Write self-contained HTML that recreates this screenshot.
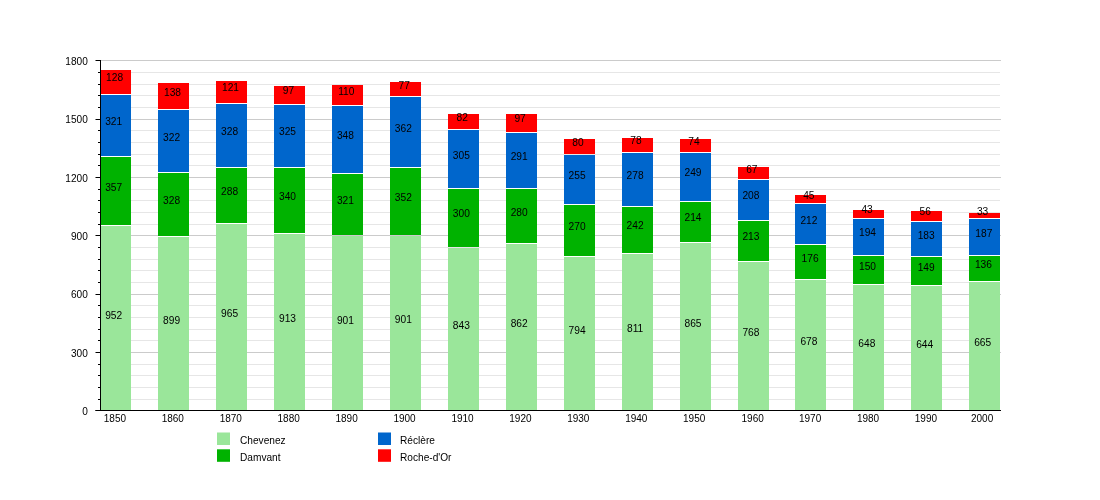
<!DOCTYPE html>
<html lang="fr"><head><meta charset="utf-8"><title>Haute-Ajoie</title>
<style>html,body{margin:0;padding:0;background:#fff;width:1100px;height:500px;overflow:hidden}</style>
</head><body>
<svg width="1100" height="500" viewBox="0 0 1100 500" style="position:absolute;left:0;top:0">
<line x1="101" x2="1000" y1="399.5" y2="399.5" stroke="#e6e6e6" stroke-width="1"/>
<line x1="101" x2="1000" y1="387.5" y2="387.5" stroke="#e6e6e6" stroke-width="1"/>
<line x1="101" x2="1000" y1="375.5" y2="375.5" stroke="#e6e6e6" stroke-width="1"/>
<line x1="101" x2="1000" y1="364.5" y2="364.5" stroke="#e6e6e6" stroke-width="1"/>
<line x1="101" x2="1001" y1="352.5" y2="352.5" stroke="#cbcbcb" stroke-width="1"/>
<line x1="101" x2="1000" y1="340.5" y2="340.5" stroke="#e6e6e6" stroke-width="1"/>
<line x1="101" x2="1000" y1="329.5" y2="329.5" stroke="#e6e6e6" stroke-width="1"/>
<line x1="101" x2="1000" y1="317.5" y2="317.5" stroke="#e6e6e6" stroke-width="1"/>
<line x1="101" x2="1000" y1="305.5" y2="305.5" stroke="#e6e6e6" stroke-width="1"/>
<line x1="101" x2="1001" y1="294.5" y2="294.5" stroke="#cbcbcb" stroke-width="1"/>
<line x1="101" x2="1000" y1="282.5" y2="282.5" stroke="#e6e6e6" stroke-width="1"/>
<line x1="101" x2="1000" y1="270.5" y2="270.5" stroke="#e6e6e6" stroke-width="1"/>
<line x1="101" x2="1000" y1="259.5" y2="259.5" stroke="#e6e6e6" stroke-width="1"/>
<line x1="101" x2="1000" y1="247.5" y2="247.5" stroke="#e6e6e6" stroke-width="1"/>
<line x1="101" x2="1001" y1="235.5" y2="235.5" stroke="#cbcbcb" stroke-width="1"/>
<line x1="101" x2="1000" y1="224.5" y2="224.5" stroke="#e6e6e6" stroke-width="1"/>
<line x1="101" x2="1000" y1="212.5" y2="212.5" stroke="#e6e6e6" stroke-width="1"/>
<line x1="101" x2="1000" y1="200.5" y2="200.5" stroke="#e6e6e6" stroke-width="1"/>
<line x1="101" x2="1000" y1="189.5" y2="189.5" stroke="#e6e6e6" stroke-width="1"/>
<line x1="101" x2="1001" y1="177.5" y2="177.5" stroke="#cbcbcb" stroke-width="1"/>
<line x1="101" x2="1000" y1="165.5" y2="165.5" stroke="#e6e6e6" stroke-width="1"/>
<line x1="101" x2="1000" y1="154.5" y2="154.5" stroke="#e6e6e6" stroke-width="1"/>
<line x1="101" x2="1000" y1="142.5" y2="142.5" stroke="#e6e6e6" stroke-width="1"/>
<line x1="101" x2="1000" y1="130.5" y2="130.5" stroke="#e6e6e6" stroke-width="1"/>
<line x1="101" x2="1001" y1="119.5" y2="119.5" stroke="#cbcbcb" stroke-width="1"/>
<line x1="101" x2="1000" y1="107.5" y2="107.5" stroke="#e6e6e6" stroke-width="1"/>
<line x1="101" x2="1000" y1="95.5" y2="95.5" stroke="#e6e6e6" stroke-width="1"/>
<line x1="101" x2="1000" y1="84.5" y2="84.5" stroke="#e6e6e6" stroke-width="1"/>
<line x1="101" x2="1000" y1="72.5" y2="72.5" stroke="#e6e6e6" stroke-width="1"/>
<line x1="101" x2="1001" y1="60.5" y2="60.5" stroke="#cbcbcb" stroke-width="1"/>
<rect x="100.00" y="226.00" width="31.0" height="184.00" fill="#9ae69a"/>
<rect x="100.00" y="157.00" width="31.0" height="68.00" fill="#00b200"/>
<rect x="100.00" y="95.00" width="31.0" height="61.00" fill="#0066cc"/>
<rect x="100.00" y="70.00" width="31.0" height="24.00" fill="#ff0000"/>
<rect x="158.00" y="237.00" width="31.0" height="173.00" fill="#9ae69a"/>
<rect x="158.00" y="173.00" width="31.0" height="63.00" fill="#00b200"/>
<rect x="158.00" y="110.00" width="31.0" height="62.00" fill="#0066cc"/>
<rect x="158.00" y="83.00" width="31.0" height="26.00" fill="#ff0000"/>
<rect x="216.00" y="224.00" width="31.0" height="186.00" fill="#9ae69a"/>
<rect x="216.00" y="168.00" width="31.0" height="55.00" fill="#00b200"/>
<rect x="216.00" y="104.00" width="31.0" height="63.00" fill="#0066cc"/>
<rect x="216.00" y="81.00" width="31.0" height="22.00" fill="#ff0000"/>
<rect x="274.00" y="234.00" width="31.0" height="176.00" fill="#9ae69a"/>
<rect x="274.00" y="168.00" width="31.0" height="65.00" fill="#00b200"/>
<rect x="274.00" y="105.00" width="31.0" height="62.00" fill="#0066cc"/>
<rect x="274.00" y="86.00" width="31.0" height="18.00" fill="#ff0000"/>
<rect x="332.00" y="236.00" width="31.0" height="174.00" fill="#9ae69a"/>
<rect x="332.00" y="174.00" width="31.0" height="61.00" fill="#00b200"/>
<rect x="332.00" y="106.00" width="31.0" height="67.00" fill="#0066cc"/>
<rect x="332.00" y="85.00" width="31.0" height="20.00" fill="#ff0000"/>
<rect x="390.00" y="236.00" width="31.0" height="174.00" fill="#9ae69a"/>
<rect x="390.00" y="168.00" width="31.0" height="67.00" fill="#00b200"/>
<rect x="390.00" y="97.00" width="31.0" height="70.00" fill="#0066cc"/>
<rect x="390.00" y="82.00" width="31.0" height="14.00" fill="#ff0000"/>
<rect x="448.00" y="248.00" width="31.0" height="162.00" fill="#9ae69a"/>
<rect x="448.00" y="189.00" width="31.0" height="58.00" fill="#00b200"/>
<rect x="448.00" y="130.00" width="31.0" height="58.00" fill="#0066cc"/>
<rect x="448.00" y="114.00" width="31.0" height="15.00" fill="#ff0000"/>
<rect x="506.00" y="244.00" width="31.0" height="166.00" fill="#9ae69a"/>
<rect x="506.00" y="189.00" width="31.0" height="54.00" fill="#00b200"/>
<rect x="506.00" y="133.00" width="31.0" height="55.00" fill="#0066cc"/>
<rect x="506.00" y="114.00" width="31.0" height="18.00" fill="#ff0000"/>
<rect x="564.00" y="257.00" width="31.0" height="153.00" fill="#9ae69a"/>
<rect x="564.00" y="205.00" width="31.0" height="51.00" fill="#00b200"/>
<rect x="564.00" y="155.00" width="31.0" height="49.00" fill="#0066cc"/>
<rect x="564.00" y="139.00" width="31.0" height="15.00" fill="#ff0000"/>
<rect x="622.00" y="254.00" width="31.0" height="156.00" fill="#9ae69a"/>
<rect x="622.00" y="207.00" width="31.0" height="46.00" fill="#00b200"/>
<rect x="622.00" y="153.00" width="31.0" height="53.00" fill="#0066cc"/>
<rect x="622.00" y="138.00" width="31.0" height="14.00" fill="#ff0000"/>
<rect x="680.00" y="243.00" width="31.0" height="167.00" fill="#9ae69a"/>
<rect x="680.00" y="202.00" width="31.0" height="40.00" fill="#00b200"/>
<rect x="680.00" y="153.00" width="31.0" height="48.00" fill="#0066cc"/>
<rect x="680.00" y="139.00" width="31.0" height="13.00" fill="#ff0000"/>
<rect x="738.00" y="262.00" width="31.0" height="148.00" fill="#9ae69a"/>
<rect x="738.00" y="221.00" width="31.0" height="40.00" fill="#00b200"/>
<rect x="738.00" y="180.00" width="31.0" height="40.00" fill="#0066cc"/>
<rect x="738.00" y="167.00" width="31.0" height="12.00" fill="#ff0000"/>
<rect x="795.00" y="280.00" width="31.0" height="130.00" fill="#9ae69a"/>
<rect x="795.00" y="245.00" width="31.0" height="34.00" fill="#00b200"/>
<rect x="795.00" y="204.00" width="31.0" height="40.00" fill="#0066cc"/>
<rect x="795.00" y="195.00" width="31.0" height="8.00" fill="#ff0000"/>
<rect x="853.00" y="285.00" width="31.0" height="125.00" fill="#9ae69a"/>
<rect x="853.00" y="256.00" width="31.0" height="28.00" fill="#00b200"/>
<rect x="853.00" y="219.00" width="31.0" height="36.00" fill="#0066cc"/>
<rect x="853.00" y="210.00" width="31.0" height="8.00" fill="#ff0000"/>
<rect x="911.00" y="286.00" width="31.0" height="124.00" fill="#9ae69a"/>
<rect x="911.00" y="257.00" width="31.0" height="28.00" fill="#00b200"/>
<rect x="911.00" y="222.00" width="31.0" height="34.00" fill="#0066cc"/>
<rect x="911.00" y="211.00" width="31.0" height="10.00" fill="#ff0000"/>
<rect x="969.00" y="282.00" width="31.0" height="128.00" fill="#9ae69a"/>
<rect x="969.00" y="256.00" width="31.0" height="25.00" fill="#00b200"/>
<rect x="969.00" y="219.00" width="31.0" height="36.00" fill="#0066cc"/>
<rect x="969.00" y="213.00" width="31.0" height="5.00" fill="#ff0000"/>
<rect x="100" y="60" width="1" height="351" fill="#000"/>
<rect x="95.5" y="410" width="905.5" height="1" fill="#000"/>
<rect x="95.5" y="410" width="5" height="1" fill="#000"/>
<rect x="98" y="399" width="2.5" height="1" fill="#000"/>
<rect x="98" y="387" width="2.5" height="1" fill="#000"/>
<rect x="98" y="375" width="2.5" height="1" fill="#000"/>
<rect x="98" y="364" width="2.5" height="1" fill="#000"/>
<rect x="95.5" y="352" width="5" height="1" fill="#000"/>
<rect x="98" y="340" width="2.5" height="1" fill="#000"/>
<rect x="98" y="329" width="2.5" height="1" fill="#000"/>
<rect x="98" y="317" width="2.5" height="1" fill="#000"/>
<rect x="98" y="305" width="2.5" height="1" fill="#000"/>
<rect x="95.5" y="294" width="5" height="1" fill="#000"/>
<rect x="98" y="282" width="2.5" height="1" fill="#000"/>
<rect x="98" y="270" width="2.5" height="1" fill="#000"/>
<rect x="98" y="259" width="2.5" height="1" fill="#000"/>
<rect x="98" y="247" width="2.5" height="1" fill="#000"/>
<rect x="95.5" y="235" width="5" height="1" fill="#000"/>
<rect x="98" y="224" width="2.5" height="1" fill="#000"/>
<rect x="98" y="212" width="2.5" height="1" fill="#000"/>
<rect x="98" y="200" width="2.5" height="1" fill="#000"/>
<rect x="98" y="189" width="2.5" height="1" fill="#000"/>
<rect x="95.5" y="177" width="5" height="1" fill="#000"/>
<rect x="98" y="165" width="2.5" height="1" fill="#000"/>
<rect x="98" y="154" width="2.5" height="1" fill="#000"/>
<rect x="98" y="142" width="2.5" height="1" fill="#000"/>
<rect x="98" y="130" width="2.5" height="1" fill="#000"/>
<rect x="95.5" y="119" width="5" height="1" fill="#000"/>
<rect x="98" y="107" width="2.5" height="1" fill="#000"/>
<rect x="98" y="95" width="2.5" height="1" fill="#000"/>
<rect x="98" y="84" width="2.5" height="1" fill="#000"/>
<rect x="98" y="72" width="2.5" height="1" fill="#000"/>
<rect x="95.5" y="60" width="5" height="1" fill="#000"/>
<g font-family="Liberation Sans, Arial, sans-serif" font-size="10.1px" fill="#000">
<text x="87.8" y="415.1" text-anchor="end">0</text>
<text x="87.8" y="356.8" text-anchor="end">300</text>
<text x="87.8" y="298.4" text-anchor="end">600</text>
<text x="87.8" y="240.1" text-anchor="end">900</text>
<text x="87.8" y="181.8" text-anchor="end">1200</text>
<text x="87.8" y="123.4" text-anchor="end">1500</text>
<text x="87.8" y="65.1" text-anchor="end">1800</text>
<text x="114.9" y="422" text-anchor="middle" font-size="10px">1850</text>
<text x="172.8" y="422" text-anchor="middle" font-size="10px">1860</text>
<text x="230.8" y="422" text-anchor="middle" font-size="10px">1870</text>
<text x="288.7" y="422" text-anchor="middle" font-size="10px">1880</text>
<text x="346.6" y="422" text-anchor="middle" font-size="10px">1890</text>
<text x="404.5" y="422" text-anchor="middle" font-size="10px">1900</text>
<text x="462.5" y="422" text-anchor="middle" font-size="10px">1910</text>
<text x="520.4" y="422" text-anchor="middle" font-size="10px">1920</text>
<text x="578.3" y="422" text-anchor="middle" font-size="10px">1930</text>
<text x="636.3" y="422" text-anchor="middle" font-size="10px">1940</text>
<text x="694.2" y="422" text-anchor="middle" font-size="10px">1950</text>
<text x="752.7" y="422" text-anchor="middle" font-size="10px">1960</text>
<text x="810.1" y="422" text-anchor="middle" font-size="10px">1970</text>
<text x="868.0" y="422" text-anchor="middle" font-size="10px">1980</text>
<text x="925.9" y="422" text-anchor="middle" font-size="10px">1990</text>
<text x="982.1" y="422" text-anchor="middle" font-size="10px">2000</text>
<text x="113.7" y="318.6" text-anchor="middle" font-size="10.2px">952</text>
<text x="113.7" y="191.2" text-anchor="middle" font-size="10.2px">357</text>
<text x="113.7" y="124.7" text-anchor="middle" font-size="10.2px">321</text>
<text x="114.6" y="81.1" text-anchor="middle" font-size="10.2px">128</text>
<text x="171.6" y="323.8" text-anchor="middle" font-size="10.2px">899</text>
<text x="171.6" y="203.6" text-anchor="middle" font-size="10.2px">328</text>
<text x="171.6" y="140.5" text-anchor="middle" font-size="10.2px">322</text>
<text x="172.5" y="95.9" text-anchor="middle" font-size="10.2px">138</text>
<text x="229.6" y="317.4" text-anchor="middle" font-size="10.2px">965</text>
<text x="229.6" y="194.7" text-anchor="middle" font-size="10.2px">288</text>
<text x="229.6" y="134.9" text-anchor="middle" font-size="10.2px">328</text>
<text x="230.5" y="91.3" text-anchor="middle" font-size="10.2px">121</text>
<text x="287.5" y="322.4" text-anchor="middle" font-size="10.2px">913</text>
<text x="287.5" y="199.7" text-anchor="middle" font-size="10.2px">340</text>
<text x="287.5" y="135.2" text-anchor="middle" font-size="10.2px">325</text>
<text x="288.4" y="94.2" text-anchor="middle" font-size="10.2px">97</text>
<text x="345.4" y="323.6" text-anchor="middle" font-size="10.2px">901</text>
<text x="345.4" y="203.9" text-anchor="middle" font-size="10.2px">321</text>
<text x="345.4" y="139.0" text-anchor="middle" font-size="10.2px">348</text>
<text x="346.3" y="94.5" text-anchor="middle" font-size="10.2px">110</text>
<text x="403.3" y="322.8" text-anchor="middle" font-size="10.2px">901</text>
<text x="403.3" y="200.9" text-anchor="middle" font-size="10.2px">352</text>
<text x="403.3" y="131.6" text-anchor="middle" font-size="10.2px">362</text>
<text x="404.2" y="89.0" text-anchor="middle" font-size="10.2px">77</text>
<text x="461.3" y="329.2" text-anchor="middle" font-size="10.2px">843</text>
<text x="461.3" y="217.2" text-anchor="middle" font-size="10.2px">300</text>
<text x="461.3" y="158.5" text-anchor="middle" font-size="10.2px">305</text>
<text x="462.2" y="121.0" text-anchor="middle" font-size="10.2px">82</text>
<text x="519.2" y="327.4" text-anchor="middle" font-size="10.2px">862</text>
<text x="519.2" y="215.5" text-anchor="middle" font-size="10.2px">280</text>
<text x="519.2" y="160.1" text-anchor="middle" font-size="10.2px">291</text>
<text x="520.1" y="122.4" text-anchor="middle" font-size="10.2px">97</text>
<text x="577.1" y="334.0" text-anchor="middle" font-size="10.2px">794</text>
<text x="577.1" y="229.7" text-anchor="middle" font-size="10.2px">270</text>
<text x="577.1" y="178.7" text-anchor="middle" font-size="10.2px">255</text>
<text x="578.0" y="146.2" text-anchor="middle" font-size="10.2px">80</text>
<text x="635.1" y="332.4" text-anchor="middle" font-size="10.2px">811</text>
<text x="635.1" y="229.1" text-anchor="middle" font-size="10.2px">242</text>
<text x="635.1" y="178.6" text-anchor="middle" font-size="10.2px">278</text>
<text x="636.0" y="144.1" text-anchor="middle" font-size="10.2px">78</text>
<text x="693.0" y="327.1" text-anchor="middle" font-size="10.2px">865</text>
<text x="693.0" y="221.3" text-anchor="middle" font-size="10.2px">214</text>
<text x="693.0" y="176.4" text-anchor="middle" font-size="10.2px">249</text>
<text x="693.9" y="145.1" text-anchor="middle" font-size="10.2px">74</text>
<text x="750.9" y="335.6" text-anchor="middle" font-size="10.2px">768</text>
<text x="750.9" y="240.3" text-anchor="middle" font-size="10.2px">213</text>
<text x="750.9" y="199.4" text-anchor="middle" font-size="10.2px">208</text>
<text x="751.8" y="172.8" text-anchor="middle" font-size="10.2px">67</text>
<text x="808.9" y="345.3" text-anchor="middle" font-size="10.2px">678</text>
<text x="810.1" y="262.2" text-anchor="middle" font-size="10.2px">176</text>
<text x="808.9" y="223.7" text-anchor="middle" font-size="10.2px">212</text>
<text x="808.8" y="198.8" text-anchor="middle" font-size="10.2px">45</text>
<text x="866.8" y="347.4" text-anchor="middle" font-size="10.2px">648</text>
<text x="867.5" y="269.7" text-anchor="middle" font-size="10.2px">150</text>
<text x="867.5" y="236.4" text-anchor="middle" font-size="10.2px">194</text>
<text x="867.1" y="213.4" text-anchor="middle" font-size="10.2px">43</text>
<text x="924.7" y="347.8" text-anchor="middle" font-size="10.2px">644</text>
<text x="926.2" y="270.6" text-anchor="middle" font-size="10.2px">149</text>
<text x="926.2" y="239.0" text-anchor="middle" font-size="10.2px">183</text>
<text x="925.2" y="215.3" text-anchor="middle" font-size="10.2px">56</text>
<text x="982.7" y="345.7" text-anchor="middle" font-size="10.2px">665</text>
<text x="983.4" y="267.8" text-anchor="middle" font-size="10.2px">136</text>
<text x="983.8" y="236.5" text-anchor="middle" font-size="10.2px">187</text>
<text x="982.6" y="215.2" text-anchor="middle" font-size="10.2px">33</text>
</g>
<rect x="217" y="432.5" width="13" height="12.5" fill="#9ae69a"/>
<rect x="217" y="449.3" width="13" height="12.5" fill="#00b200"/>
<rect x="378" y="432.5" width="13" height="12.5" fill="#0066cc"/>
<rect x="378" y="449.3" width="13" height="12.5" fill="#ff0000"/>
<g font-family="Liberation Sans, Arial, sans-serif" font-size="10.15px" fill="#000">
<text x="240" y="444.1">Chevenez</text>
<text x="240" y="460.9">Damvant</text>
<text x="400" y="444.1">Réclère</text>
<text x="400" y="460.9">Roche-d'Or</text>
</g>
</svg>
</body></html>
